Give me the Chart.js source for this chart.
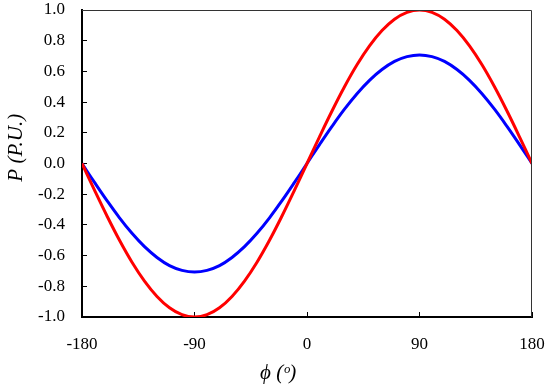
<!DOCTYPE html>
<html>
<head>
<meta charset="utf-8">
<script src="https://cdn.jsdelivr.net/npm/chart.js@4.4.1/dist/chart.umd.min.js"></script>
<style>
  html, body { margin: 0; padding: 0; background: #fff; }
  #wrap { width: 550px; height: 390px; }
</style>
</head>
<body>
<div id="wrap"><canvas id="myChart" width="550" height="390"></canvas></div>
<script>
    // 角度 (deg)
    const phi = [-180, -170, -160, -150, -140, -130, -120, -110, -100, -90,
                 -80, -70, -60, -50, -40, -30, -20, -10, 0,
                 10, 20, 30, 40, 50, 60, 70, 80, 90,
                 100, 110, 120, 130, 140, 150, 160, 170, 180];
    // 红线 P
    const redP = [0.000, -0.174, -0.342, -0.500, -0.643, -0.766, -0.866, -0.940, -0.985, -1.000,
                  -0.985, -0.940, -0.866, -0.766, -0.643, -0.500, -0.342, -0.174, 0.000,
                  0.174, 0.342, 0.500, 0.643, 0.766, 0.866, 0.940, 0.985, 1.000,
                  0.985, 0.940, 0.866, 0.766, 0.643, 0.500, 0.342, 0.174, 0.000];
    // 蓝线 P
    const blueP = [0.000, -0.123, -0.242, -0.354, -0.455, -0.542, -0.612, -0.665, -0.696, -0.707,
                   -0.696, -0.665, -0.612, -0.542, -0.455, -0.354, -0.242, -0.123, 0.000,
                   0.123, 0.242, 0.354, 0.455, 0.542, 0.612, 0.665, 0.696, 0.707,
                   0.696, 0.665, 0.612, 0.542, 0.455, 0.354, 0.242, 0.123, 0.000];
    const xTicks = [-180, -90, 0, 90, 180];

    const serif = "'Liberation Serif', 'Times New Roman', serif";

    function toPoints(ys) {
        return phi.map((x, i) => ({ x: x, y: ys[i] }));
    }

    // 上边和右边的细框
    const frame = {
        id: 'frame',
        afterDraw(chart) {
            const a = chart.chartArea;
            const c = chart.ctx;
            c.save();
            c.strokeStyle = '#333';
            c.lineWidth = 1;
            c.beginPath();
            c.moveTo(a.left, a.top + 0.5);
            c.lineTo(a.right - 0.5, a.top + 0.5);
            c.lineTo(a.right - 0.5, a.bottom);
            c.stroke();
            c.restore();
        }
    };

    const ctx = document.getElementById('myChart').getContext('2d');
    const chart = new Chart(ctx, {
        type: 'scatter',
        data: {
            datasets: [
                { data: toPoints(redP), borderColor: '#ff0000', borderWidth: 3, showLine: true, pointRadius: 0, tension: 0.4 },
                { data: toPoints(blueP), borderColor: '#0000ff', borderWidth: 3, showLine: true, pointRadius: 0, tension: 0.4 }
            ]
        },
        options: {
            responsive: false,
            animation: false,
            layout: { padding: { top: 10, right: 18, left: 0, bottom: 0 } },
            plugins: { legend: { display: false }, tooltip: { enabled: false } },
            scales: {
                x: {
                    type: 'linear', min: -180, max: 180,
                    afterBuildTicks: (s) => { s.ticks = xTicks.map(v => ({ value: v })); },
                    afterFit: (s) => { s.height = 73; s.paddingLeft = 0; s.paddingRight = 0; },
                    grid: { drawOnChartArea: false, drawTicks: true, tickLength: -5, color: '#000', lineWidth: 1 },
                    border: { color: '#000', width: 2 },
                    ticks: { color: '#000', padding: 22, maxRotation: 0, font: { family: serif, size: 17 } },
                    title: { display: true, text: 'ϕ (ᵒ)           ', color: '#000', padding: { top: 4 },
                             font: { family: serif, size: 21, style: 'italic' } }
                },
                y: {
                    min: -1, max: 1,
                    afterFit: (s) => { s.width = 82; s.paddingTop = 0; s.paddingBottom = 0; },
                    grid: { drawOnChartArea: false, drawTicks: true, tickLength: -5, color: '#000', lineWidth: 1 },
                    border: { color: '#000', width: 2 },
                    ticks: { stepSize: 0.2, color: '#000', padding: 22, font: { family: serif, size: 17 },
                             callback: (v) => v.toFixed(1) },
                    title: { display: true, text: '      P (P.U.)', color: '#000', padding: { bottom: 0 },
                             font: { family: serif, size: 21, style: 'italic' } }
                }
            }
        },
        plugins: [frame]
    });
</script>
</body>
</html>
